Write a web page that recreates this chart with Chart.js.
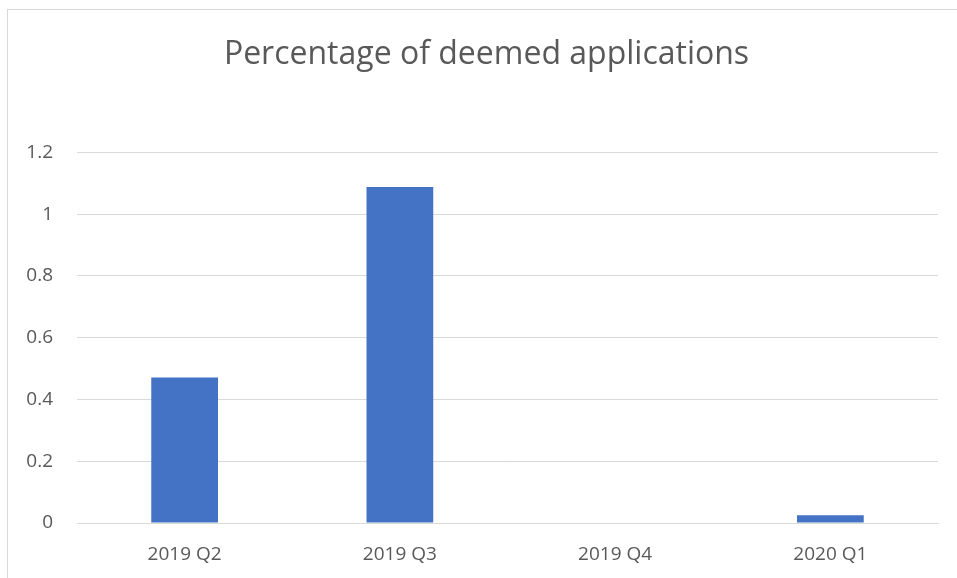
<!DOCTYPE html>
<html>
<head>
<meta charset="utf-8">
<script src="https://cdn.jsdelivr.net/npm/chart.js@4/dist/chart.umd.min.js"></script>
<style>
  html, body { margin: 0; padding: 0; background: #fff; overflow: hidden; }
  .wrap { position: relative; width: 957px; height: 578px; }
  .frame {
    position: absolute; left: 7px; top: 9px;
    width: 1000px; height: 1000px;
    border: 1px solid #d9d9d9;
  }
  canvas { position: absolute; left: 0; top: 0; }
</style>
</head>
<body>
<div class="wrap">
  <div class="frame"></div>
  <canvas id="deemedChart" width="957" height="578"></canvas>
</div>
<script>
// chart data
const quarters = ["2019 Q2", "2019 Q3", "2019 Q4", "2020 Q1"];
const deemedPct = [0.471, 1.088, 0, 0.025];
const yTickLabels = ["0", "0.2", "0.4", "0.6", "0.8", "1", "1.2"];

const textColor = "#595959";
const gridColor = "#d9d9d9";

const ctx = document.getElementById("deemedChart").getContext("2d");

new Chart(ctx, {
  type: "bar",
  data: {
    labels: quarters,
    datasets: [
      {
        label: "Percentage of deemed applications",
        data: deemedPct,
        backgroundColor: "#4472c4",
        borderWidth: 0,
        barPercentage: 0.62,
        categoryPercentage: 0.5,
      },
    ],
  },
  options: {
    responsive: false,
    animation: false,
    layout: {
      padding: { left: 16, right: 0, top: 0, bottom: 0 },
    },
    plugins: {
      legend: { display: false },
      tooltip: { enabled: false },
      title: {
        display: true,
        text: "Percentage of deemed applications",
        color: textColor,
        font: { family: "'Open Sans'", size: 32, weight: "normal" },
        padding: { top: 36, bottom: 78 },
      },
    },
    scales: {
      x: {
        grid: { display: false, drawTicks: false },
        border: { display: true, color: gridColor, width: 1 },
        ticks: {
          color: textColor,
          padding: 20,
          font: { family: "'Open Sans'", size: 19 },
        },
        afterFit: function (axis) {
          axis.height = 55;
        },
      },
      y: {
        min: 0,
        max: 1.2,
        grid: { color: gridColor, drawTicks: false, lineWidth: 1 },
        border: { display: false },
        ticks: {
          stepSize: 0.2,
          color: textColor,
          padding: 24,
          font: { family: "'Open Sans'", size: 19 },
          callback: function (value, index) {
            return yTickLabels[index];
          },
        },
        afterFit: function (axis) {
          axis.width = 61;
        },
      },
      // empty right-hand spacer so the plot ends short of the edge
      spacer: {
        type: "linear",
        position: "right",
        grid: { display: false, drawTicks: false },
        border: { display: false },
        ticks: { display: false },
        afterFit: function (axis) {
          axis.width = 19;
        },
      },
    },
  },
});
</script>
</body>
</html>
